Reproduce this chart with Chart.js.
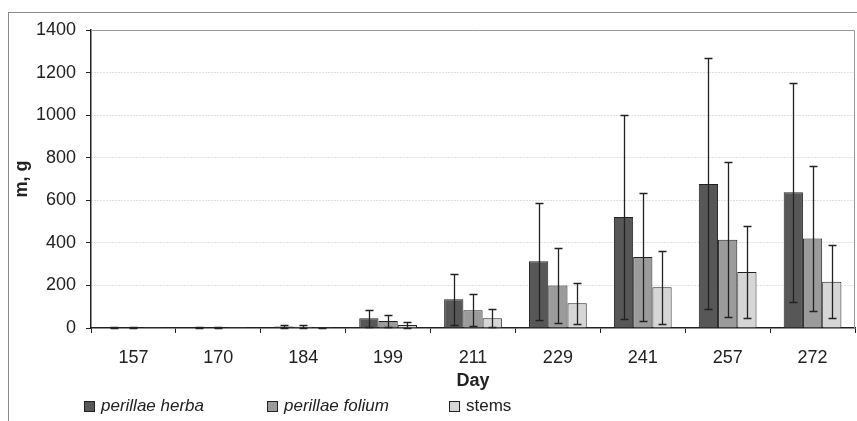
<!DOCTYPE html>
<html>
<head>
<meta charset="utf-8">
<title>Biomass by day</title>
<script src="https://cdn.jsdelivr.net/npm/chart.js@4.4.1/dist/chart.umd.min.js"></script>
<style>
  html, body { margin: 0; padding: 0; background: #fff; }
  #wrap { position: relative; width: 857px; height: 421px; overflow: hidden; font-family: "Liberation Sans", Arial, sans-serif; color: #222; }
  #frame { position: absolute; left: 8px; top: 12px; right: -5px; bottom: -5px; border-left: 1.5px solid #8a8a8a; border-top: 1.5px solid #8a8a8a; }
  #chart { position: absolute; left: 0; top: 0; }
  .lg { position: absolute; top: 396px; font-size: 17px; line-height: 20px; white-space: nowrap; }
  .lg i.box { display: inline-block; width: 9px; height: 9px; border: 1px solid #222; margin-right: 6px; vertical-align: -1px; }
  .lg.it span { font-style: italic; }
</style>
</head>
<body>
<div id="wrap">
  <div id="frame"></div>
  <canvas id="chart" width="857" height="421"></canvas>
  <div class="lg it" style="left:84px"><i class="box" style="background:#575757"></i><span>perillae herba</span></div>
  <div class="lg it" style="left:267px"><i class="box" style="background:#9b9b9b"></i><span>perillae folium</span></div>
  <div class="lg" style="left:449px"><i class="box" style="background:#d6d6d6"></i><span>stems</span></div>
</div>
<script>
const days = ['157', '170', '184', '199', '211', '229', '241', '257', '272'];

// mean mass, g
const herba = [2, 2, 7, 46, 135, 314, 522, 677, 638];
const folium = [2, 2, 6, 33, 83, 200, 333, 415, 420];
const stems = [1, 1, 1, 14, 46, 116, 192, 263, 217];

// standard deviations
const herbaSd = [1, 1, 5, 40, 120, 275, 480, 590, 515];
const foliumSd = [1, 1, 6, 26, 75, 175, 300, 365, 340];
const stemsSd = [0, 0, 1, 12, 43, 96, 172, 218, 172];

const yTicks = [0, 200, 400, 600, 800, 1000, 1200, 1400];

// whiskers drawn on top of the bars
const errorBars = {
  id: 'errorBars',
  afterDatasetsDraw(chart) {
    const ctx = chart.ctx;
    const y = chart.scales.y;
    ctx.save();
    ctx.strokeStyle = '#222';
    ctx.lineWidth = 1.3;
    chart.data.datasets.forEach((ds, i) => {
      const meta = chart.getDatasetMeta(i);
      meta.data.forEach((bar, j) => {
        const sd = ds.sd[j];
        if (!sd) return;
        const v = ds.data[j];
        const top = Math.round(y.getPixelForValue(v + sd)) + 0.5;
        const bot = Math.round(y.getPixelForValue(Math.max(v - sd, 0))) + 0.5;
        const x = Math.round(bar.x) + 0.5;
        ctx.beginPath();
        ctx.moveTo(x, top); ctx.lineTo(x, bot);
        ctx.moveTo(x - 4, top); ctx.lineTo(x + 4, top);
        ctx.moveTo(x - 4, bot); ctx.lineTo(x + 4, bot);
        ctx.stroke();
      });
    });
    ctx.restore();
  }
};

// grey top and right edges of the plot area
const plotFrame = {
  id: 'plotFrame',
  beforeDatasetsDraw(chart) {
    const {ctx, chartArea: a} = chart;
    ctx.save();
    ctx.strokeStyle = '#999';
    ctx.lineWidth = 1;
    ctx.beginPath();
    ctx.moveTo(a.left, a.top + 0.5);
    ctx.lineTo(a.right - 0.5, a.top + 0.5);
    ctx.lineTo(a.right - 0.5, a.bottom);
    ctx.stroke();
    ctx.restore();
  }
};

const barCfg = {
  type: 'bar',
  data: {
    labels: days,
    datasets: [
      { label: 'perillae herba', data: herba, sd: herbaSd, backgroundColor: '#575757' },
      { label: 'perillae folium', data: folium, sd: foliumSd, backgroundColor: '#9b9b9b' },
      { label: 'stems', data: stems, sd: stemsSd, backgroundColor: '#d6d6d6' }
    ].map(d => Object.assign(d, {
      borderColor: '#222',
      borderWidth: 1,
      borderSkipped: 'bottom',
      barPercentage: 1,
      categoryPercentage: 0.68
    }))
  },
  options: {
    responsive: false,
    animation: false,
    layout: { padding: { left: 8, top: 30, right: 2, bottom: 28 } },
    plugins: {
      legend: { display: false },
      tooltip: { enabled: false }
    },
    scales: {
      x: {
        grid: { drawOnChartArea: false, drawTicks: true, tickLength: 5, tickColor: '#222', offset: true },
        border: { display: true, color: '#222', width: 1.5 },
        ticks: { color: '#222', padding: 14, font: { family: 'Liberation Sans', size: 18 } },
        title: {
          display: true, text: 'Day', color: '#222',
          font: { family: 'Liberation Sans', size: 18, weight: 'bold' },
          padding: { top: 0, bottom: 1 }
        },
        afterFit(scale) { scale.height = 65; }
      },
      y: {
        min: 0,
        max: 1400,
        afterBuildTicks(scale) { scale.ticks = yTicks.map(v => ({ value: v })); },
        grid: {
          color: ctx => (ctx.tick && ctx.tick.value > 0 && ctx.tick.value < 1400) ? '#c4c4c4' : 'rgba(0,0,0,0)',
          tickColor: '#222',
          tickLength: 5,
          lineWidth: 1
        },
        border: { display: true, color: '#222', width: 1.5, dash: [1, 2] },
        ticks: {
          color: '#222', padding: 10,
          font: { family: 'Liberation Sans', size: 18 },
          callback: v => String(v)
        },
        title: {
          display: true, text: 'm, g', color: '#222',
          font: { family: 'Liberation Sans', size: 18, weight: 'bold' },
          padding: { top: 3, bottom: 0 }
        },
        afterFit(scale) { scale.width = 83; }
      }
    }
  },
  plugins: [plotFrame, errorBars]
};

const barCtx = document.getElementById('chart');
window.myBar = new Chart(barCtx, barCfg);
</script>
</body>
</html>
